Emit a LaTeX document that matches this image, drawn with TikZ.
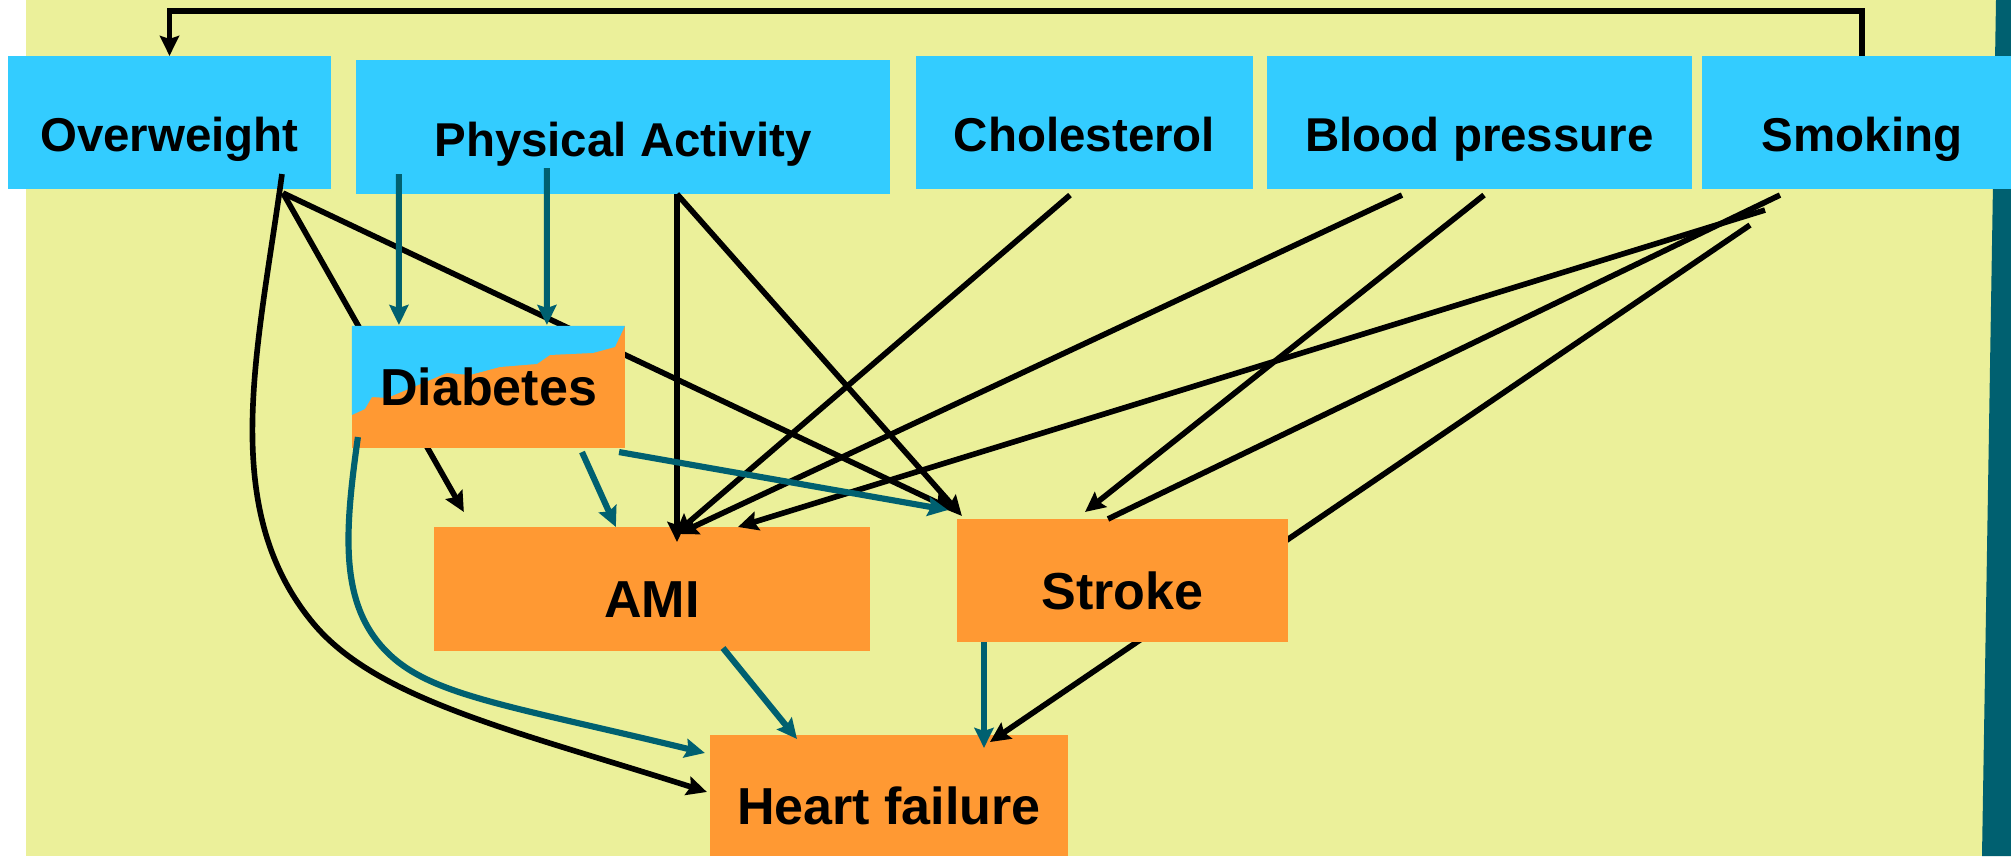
\documentclass[tikz,border=0pt]{standalone}
\usepackage{fontspec}
\setmainfont{Liberation Sans}
\usepackage{tikz}
\usetikzlibrary{arrows.meta, calc}
\definecolor{paleyellow}{HTML}{EBF09A}
\definecolor{riskblue}{HTML}{33CCFF}
\definecolor{outorange}{HTML}{FF9933}
\definecolor{darkteal}{HTML}{006070}

\begin{document}
\begin{tikzpicture}[>={Stealth[length=0.2cm, width=0.19cm, inset=0.03cm]}, x=0.01cm, y=-0.01cm,
    factor/.style={fill=riskblue, inner sep=0pt, outer sep=0pt, text height=0.62cm, text depth=0.04cm,
        font=\fontsize{13.5}{16}\selectfont\bfseries},
    outcome/.style={fill=outorange, inner sep=0pt, outer sep=0pt, text height=0.6cm, text depth=0.03cm,
        font=\fontsize{14.8}{17}\selectfont\bfseries},
    link/.style={->, line width=1.6pt, black},
    dlink/.style={->, line width=1.75pt, darkteal}]

    \useasboundingbox (0,0) rectangle (2011,856);
    \clip (0,0) rectangle (2011,856);
    \fill[white] (0,0) rectangle (2011,856);
    \fill[paleyellow] (26,0) rectangle (2000,856);
    \fill[darkteal] (1996,0) -- (2011,0) -- (2011,856) -- (1982,856) -- cycle;

    % risk factors
    \draw(169.5,122.5) node[factor, minimum width=3.23cm, minimum height=1.33cm] (ow) {Overweight};
    \draw(623,127) node[factor, minimum width=5.34cm, minimum height=1.34cm] (pa) {Physical Activity};
    \draw(1084.5,122.5) node[factor, minimum width=3.37cm, minimum height=1.33cm] (chol) {Cholesterol};
    \draw(1479.5,122.5) node[factor, minimum width=4.25cm, minimum height=1.33cm] (bp) {Blood pressure};
    \draw(1862,122.5) node[factor, minimum width=3.2cm, minimum height=1.33cm] (smk) {Smoking};

    % outcomes
    \draw(652,589) node[outcome, minimum width=4.36cm, minimum height=1.24cm] (ami) {AMI};
    \draw(889,795.5) node[outcome, minimum width=3.58cm, minimum height=1.21cm] (hf) {Heart failure};

    \draw[link] ($(smk.south)+(-112,36)$) -- ($(hf.north)+(101,7)$);
    \draw(1122.5,580.5) node[outcome, minimum width=3.31cm, minimum height=1.23cm] (str) {Stroke};

    \draw[link] ($(ow.south)+(113.5,4)$) -- ($(ami.north west)+(30,-15)$);
    \draw[link] ($(ow.south)+(113.5,4)$) -- ($(str.north west)+(-4,-9)$);
    \draw(488.5,387) node[outcome, minimum width=2.73cm, minimum height=1.22cm, text height=0.4cm,
        path picture={\fill[riskblue] (path picture bounding box.north west) -- +(0,89) -- +(13,83)
        -- +(20,71) -- +(35,72) -- +(95,47) -- +(118,49) -- +(148,41) -- +(185,38) -- +(198,29)
        -- +(241,27) -- +(263,21) -- +(273,0) -- cycle;}] (dia) {Diabetes};

    % black links
    \draw[link] (smk.north) -- ++(0,-45) -| (ow.north);
    \draw[link] ($(ow.south)+(112.5,-15)$) .. controls (258,350) and (217,507) .. (313,623)
        .. controls (377,700) and (516,731) .. ($(hf.north west)+(-3,57)$);
    \draw[link] ($(pa.south)+(54,0)$) -- ($(ami.north)+(25,15)$);
    \draw[link] ($(pa.south)+(54,0)$) -- ($(str.north west)+(5,-3)$);
    \draw[link] ($(chol.south)+(-14.5,6)$) -- ($(ami.north)+(23,7)$);
    \draw[link] ($(bp.south)+(-77.5,6)$) -- ($(ami.north)+(26,7)$);
    \draw[link] ($(bp.south)+(4.5,6)$) -- ($(str.north)+(-37.5,-7)$);
    \draw[link] ($(smk.south)+(-97,21)$) -- ($(ami.north)+(86,0)$);
    \draw[link, -] ($(smk.south)+(-82,6)$) -- ($(str.north)+(-14.5,0)$);

    % teal links
    \draw[dlink] ($(pa.south west)+(43,-20)$) -- ($(dia.north west)+(47,-1)$);
    \draw[dlink] ($(pa.south west)+(191,-26)$) -- ($(dia.north west)+(195,-1)$);
    \draw[dlink] ($(dia.south)+(93.5,4)$) -- ($(ami.north west)+(182,0)$);
    \draw[dlink] ($(dia.south east)+(-6,4)$) -- ($(str.north west)+(-9,-9)$);
    \draw[dlink] ($(dia.south west)+(6,-11)$) .. controls (344,536) and (339,607) .. (390,655)
        .. controls (434,696) and (511,706) .. ($(hf.north west)+(-5,18)$);
    \draw[dlink] ($(ami.south)+(71,-3)$) -- ($(hf.north)+(-92,4)$);
    \draw[dlink] ($(str.south)+(-138.5,0)$) -- ($(hf.north)+(95,13)$);

\end{tikzpicture}
\end{document}
